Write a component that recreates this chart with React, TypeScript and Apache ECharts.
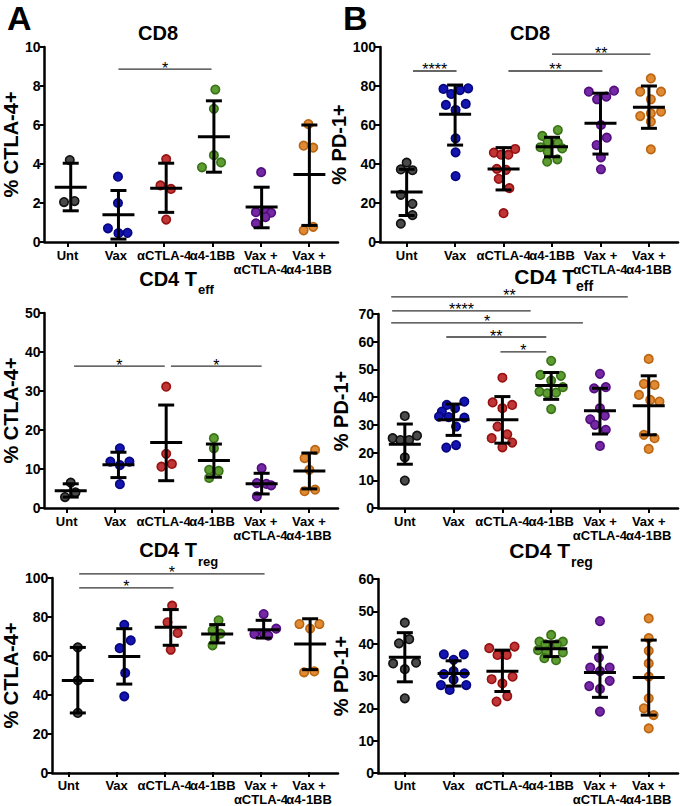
import React, { useEffect, useRef } from "react";
import * as echarts from "echarts";

const FONT = "'Liberation Sans', Arial, Helvetica, sans-serif";

const groups = ["Unt", "Vax", "αCTLA-4", "α4-1BB", "Vax +\nαCTLA-4", "Vax +\nα4-1BB"];
const groupFill = ["#4a4a4a", "#1414b0", "#c03636", "#5c9c30", "#7428a4", "#e08a34"];
const groupEdge = ["#111111", "#06067e", "#961212", "#3a7218", "#520e7e", "#bb6612"];

// points: [horizontal jitter within group, value]
// stats: [mean, mean - SD, mean + SD]
// sig: [from group pos, to group pos, bracket level, label]

// Panel A – CD8, % CTLA-4+
const aCd8Points = [
  [[-0.02, 4.2], [-0.14, 2.05], [0.08, 2.1]],
  [[-0.01, 3.35], [-0.01, 2.0], [-0.22, 0.7], [0.0, 0.45], [0.19, 0.47]],
  [[0.0, 4.25], [-0.12, 2.9], [0.1, 2.72], [0.0, 1.15]],
  [[0.03, 7.82], [0.0, 6.83], [0.0, 4.45], [-0.25, 3.83], [0.15, 4.08]],
  [[-0.01, 3.58], [-0.12, 1.53], [0.1, 1.55], [0.2, 1.5], [-0.12, 0.95], [0.08, 1.28]],
  [[-0.02, 6.05], [-0.12, 4.94], [0.08, 4.84], [-0.12, 0.6], [0.08, 0.78]],
];
const aCd8Stats = [[2.81, 1.6, 4.04], [1.4, 0.15, 2.64], [2.76, 1.52, 4.04], [5.4, 3.58, 7.24], [1.79, 0.73, 2.81], [3.46, 0.85, 6.0]];
const aCd8Sig = [[1.0, 2.95, 8.87, "*"]];

// Panel B – CD8, % PD-1+
const bCd8Points = [
  [[0.0, 40.7], [-0.12, 37.2], [0.12, 36.8], [-0.12, 24.2], [0.12, 19.6], [0.12, 13.8], [-0.12, 9.4]],
  [[-0.24, 78.5], [-0.08, 75.9], [0.1, 77.9], [0.27, 78.8], [-0.19, 70.3], [0.01, 67.7], [0.22, 70.8], [0.01, 53.2], [0.01, 46.0], [0.01, 33.8]],
  [[-0.2, 45.8], [-0.05, 44.8], [0.1, 44.8], [0.24, 47.7], [-0.14, 37.5], [0.05, 37.0], [-0.1, 32.4], [0.12, 27.6], [0.0, 14.8]],
  [[-0.2, 54.4], [0.12, 57.4], [-0.09, 51.4], [0.12, 50.9], [-0.24, 48.6], [0.21, 48.0], [-0.09, 46.3], [0.11, 42.4], [-0.1, 41.2]],
  [[-0.24, 77.1], [0.28, 77.6], [-0.07, 73.2], [0.12, 74.5], [0.01, 60.0], [0.13, 53.5], [-0.08, 49.7], [0.01, 43.4], [0.01, 37.3]],
  [[0.04, 83.9], [-0.18, 77.1], [0.25, 77.1], [0.04, 73.2], [-0.18, 64.6], [0.25, 66.8], [0.04, 66.0], [0.04, 61.7], [0.04, 47.5]],
];
const bCd8Stats = [[25.6, 13.6, 37.3], [65.5, 49.7, 80.5], [37.5, 26.7, 48.4], [48.9, 43.7, 53.7], [60.9, 45.1, 76.3], [69.1, 58.3, 80.0]];
const bCd8Sig = [[0.13, 1.03, 87.7, "****"], [2.1, 4.04, 87.7, "**"], [3.0, 5.03, 96.3, "**"]];

// Panel A – CD4 Teff, % CTLA-4+
const aTeffPoints = [
  [[0.0, 6.5], [0.1, 4.0], [-0.12, 2.8]],
  [[0.03, 15.3], [-0.17, 11.9], [0.23, 11.9], [0.03, 11.0], [0.03, 6.1]],
  [[0.0, 31.1], [0.0, 13.9], [-0.1, 10.6], [0.12, 11.3]],
  [[0.0, 17.9], [0.0, 15.3], [-0.1, 9.8], [0.1, 9.5], [-0.1, 7.7]],
  [[0.0, 10.2], [-0.1, 6.4], [0.1, 6.2], [0.2, 5.8], [-0.1, 3.0]],
  [[0.12, 14.9], [-0.1, 12.8], [0.0, 9.8], [-0.1, 4.3], [0.12, 4.7]],
];
const aTeffStats = [[4.43, 2.8, 6.2], [11.1, 7.8, 14.3], [16.8, 7.0, 26.4], [12.2, 7.9, 16.4], [6.2, 3.6, 8.9], [9.5, 4.9, 14.1]];
const aTeffSig = [[0.07, 1.97, 36.4, "*"], [2.1, 4.0, 36.4, "*"]];

// Panel B – CD4 Teff, % PD-1+
const bTeffPoints = [
  [[0, 33.2], [-0.25, 25.2], [-0.09, 24.5], [0.09, 24.5], [0.25, 26.1], [0, 18.3], [0, 9.9]],
  [[-0.14, 37.2], [0.22, 38.4], [0.03, 36.0], [-0.24, 34.8], [-0.3, 33.0], [-0.1, 32.8], [0.22, 32.6], [0.05, 29.4], [-0.15, 21.8], [0.05, 22.7]],
  [[0, 47.0], [-0.2, 38.1], [0.2, 37.2], [0, 36.0], [-0.1, 29.4], [0.1, 26.6], [-0.22, 25.2], [0.2, 23.6], [0, 21.9]],
  [[0, 53.1], [-0.22, 48.0], [0.2, 47.7], [0, 46.0], [-0.24, 42.0], [-0.08, 41.4], [0.1, 41.6], [0.24, 43.6], [0, 35.7]],
  [[0, 48.4], [-0.12, 43.2], [0.12, 43.6], [0, 36.0], [-0.2, 32.0], [0.1, 33.3], [-0.1, 30.0], [0.12, 28.2], [0, 22.4]],
  [[0, 53.8], [-0.1, 44.8], [0.12, 44.4], [-0.2, 40.8], [0.03, 39.0], [0.22, 38.4], [-0.1, 26.4], [0.12, 25.2], [0, 21.3]],
];
const bTeffStats = [[23.0, 15.8, 30.3], [31.8, 26.2, 37.5], [31.8, 23.4, 40.2], [44.2, 39.2, 48.9], [35.1, 26.7, 43.2], [36.9, 26.4, 47.7]];
const bTeffSig = [
  [-0.28, 4.57, 76.2, "**"],
  [-0.26, 2.58, 71.1, "****"],
  [-0.28, 3.65, 66.8, "*"],
  [0.85, 2.9, 61.7, "**"],
  [1.96, 2.9, 56.3, "*"],
];

// Panel A – CD4 Treg, % CTLA-4+
const aTregPoints = [
  [[0, 64.4], [0, 47.5], [0, 30.8]],
  [[0, 76], [0.14, 68], [-0.1, 64], [0.02, 51.3], [0, 39.3]],
  [[0.03, 85.8], [-0.07, 77.3], [0.15, 71.8], [0, 63.2]],
  [[0.03, 78.3], [-0.1, 73.2], [0.07, 71.5], [-0.05, 69], [-0.1, 65.5]],
  [[0, 81.5], [-0.2, 71.3], [0.27, 74], [0, 71.5], [0.1, 70.5]],
  [[-0.23, 76.4], [0.2, 76.4], [0, 74], [-0.13, 51.6], [0.09, 52.1]],
];
const aTregStats = [[47.5, 30.8, 64.4], [59.8, 45.6, 74], [74.7, 65.5, 83.8], [71.3, 66.7, 76.1], [73.5, 69.2, 78.3], [66.2, 53, 79.1]];
const aTregSig = [[0.03, 4.02, 102.1, "*"], [0.03, 2.06, 94.9, "*"]];

// Panel B – CD4 Treg, % PD-1+
const bTregPoints = [
  [[0, 46.5], [-0.12, 40.1], [0.09, 41.4], [-0.24, 33.9], [0, 32.1], [0.23, 34.1], [0, 23.1]],
  [[-0.2, 36.7], [0.21, 36.7], [0, 35.0], [0, 31.5], [-0.2, 30.6], [0.22, 30.8], [0, 28.9], [-0.26, 27.2], [-0.08, 25.7], [0.26, 27.2]],
  [[-0.27, 38.6], [0.25, 39.1], [-0.1, 36.5], [0.09, 36.5], [0.21, 29.8], [-0.22, 29.0], [0, 27.7], [0.1, 23.8], [-0.12, 22.1]],
  [[0, 42.7], [-0.24, 40.6], [0.24, 40.6], [-0.12, 39.8], [0.12, 39.8], [-0.27, 38.0], [-0.1, 37.6], [0.24, 37.3], [-0.14, 35.5], [0.1, 34.9]],
  [[0, 47.0], [-0.02, 35.7], [-0.2, 32.6], [0.2, 32.6], [0, 31.5], [0.2, 28.5], [-0.22, 26.9], [0, 26.0], [0, 19.0]],
  [[0, 47.8], [0, 41.7], [0, 37.8], [0, 33.9], [0, 29.8], [0, 23.1], [-0.1, 20.0], [0.1, 17.9], [0, 13.8]],
];
const bTregStats = [[35.8, 28.2, 43.4], [30.8, 26.9, 34.7], [31.5, 25.2, 38.0], [38.4, 36.0, 40.6], [31.1, 23.4, 38.9], [29.5, 17.9, 41.1]];
const bTregSig: any[] = [];

const panels = [
  { grid: { left: 41, top: 47, width: 297, height: 195 }, yMax: 10, yStep: 2, yName: "% CTLA-4+", nameGap: 15, points: aCd8Points, stats: aCd8Stats, sig: aCd8Sig },
  { grid: { left: 380, top: 47, width: 298, height: 195 }, yMax: 100, yStep: 20, yName: "% PD-1+", nameGap: 27, points: bCd8Points, stats: bCd8Stats, sig: bCd8Sig },
  { grid: { left: 40, top: 313, width: 298, height: 195 }, yMax: 50, yStep: 10, yName: "% CTLA-4+", nameGap: 15, points: aTeffPoints, stats: aTeffStats, sig: aTeffSig },
  { grid: { left: 378, top: 314, width: 300, height: 194 }, yMax: 70, yStep: 10, yName: "% PD-1+", nameGap: 27, points: bTeffPoints, stats: bTeffStats, sig: bTeffSig },
  { grid: { left: 42, top: 578, width: 296, height: 195 }, yMax: 100, yStep: 20, yName: "% CTLA-4+", nameGap: 15, points: aTregPoints, stats: aTregStats, sig: aTregSig },
  { grid: { left: 378, top: 579, width: 300, height: 194 }, yMax: 60, yStep: 10, yName: "% PD-1+", nameGap: 27, points: bTregPoints, stats: bTregStats, sig: bTregSig },
];

const X_MIN = -0.55;
const X_MAX = 5.6;

function titleText(x: number, y: number, text: string, size: number, align = "center") {
  return {
    type: "text",
    x,
    y,
    style: { text, fontSize: size, fontWeight: "bold", fontFamily: FONT, fill: "#000", align, verticalAlign: "middle" },
  };
}

function buildOption() {
  const grid: any[] = [];
  const xAxis: any[] = [];
  const yAxis: any[] = [];
  const series: any[] = [];

  panels.forEach((p, i) => {
    const g0 = p.grid;
    const unit = g0.width / (X_MAX - X_MIN);
    // main plotting grid (index 2i)
    grid.push({ ...g0, containLabel: false });
    // label grid (index 2i+1): category bands aligned to the value scale of the main grid
    grid.push({
      left: g0.left + (-0.5 - X_MIN) * unit,
      top: g0.top,
      width: 6 * unit,
      height: g0.height,
      containLabel: false,
    });

    xAxis.push({
      gridIndex: 2 * i,
      type: "value",
      min: X_MIN,
      max: X_MAX,
      axisLine: { show: true, onZero: false, lineStyle: { color: "#000", width: 2.5 } },
      axisTick: { show: false },
      axisLabel: { show: false },
      splitLine: { show: false },
    });
    xAxis.push({
      gridIndex: 2 * i + 1,
      type: "category",
      data: groups,
      boundaryGap: true,
      axisLine: { show: false, onZero: false },
      axisTick: { show: true, alignWithLabel: true, interval: 0, length: 5, lineStyle: { color: "#000", width: 2 } },
      axisLabel: {
        interval: 0,
        fontSize: 13,
        fontWeight: "bold",
        fontFamily: FONT,
        color: "#000",
        lineHeight: 14,
        margin: 6,
      },
      splitLine: { show: false },
    });

    yAxis.push({
      gridIndex: 2 * i,
      type: "value",
      min: 0,
      max: p.yMax,
      interval: p.yStep,
      name: p.yName,
      nameLocation: "middle",
      nameGap: p.nameGap,
      nameTextStyle: { fontSize: 20, fontWeight: "bold", fontFamily: FONT, color: "#000" },
      axisLine: { show: true, onZero: false, lineStyle: { color: "#000", width: 2.5 } },
      axisTick: { show: true, length: 5, lineStyle: { color: "#000", width: 2 } },
      axisLabel: { fontSize: 14, fontWeight: "bold", fontFamily: FONT, color: "#000", margin: 4 },
      splitLine: { show: false },
    });
    yAxis.push({
      gridIndex: 2 * i + 1,
      type: "value",
      min: 0,
      max: p.yMax,
      show: false,
    });

    const scatterData: any[] = [];
    p.points.forEach((grp: number[][], g: number) => {
      grp.forEach(([j, v]) => {
        scatterData.push({ value: [g + j, v], itemStyle: { color: groupFill[g], borderColor: groupEdge[g] } });
      });
    });
    series.push({
      type: "scatter",
      xAxisIndex: 2 * i,
      yAxisIndex: 2 * i,
      symbol: "circle",
      symbolSize: 8.5,
      itemStyle: { borderWidth: 1.6, opacity: 1 },
      data: scatterData,
      z: 2,
      silent: true,
    });

    series.push({
      type: "custom",
      xAxisIndex: 2 * i,
      yAxisIndex: 2 * i,
      clip: false,
      z: 3,
      silent: true,
      encode: { x: 0, y: [1, 2, 3] },
      data: p.stats.map((s: number[], g: number) => [g, s[0], s[1], s[2]]),
      renderItem: (params: any, api: any) => {
        const g = api.value(0);
        const pm = api.coord([g, api.value(1)]);
        const pl = api.coord([g, api.value(2)]);
        const ph = api.coord([g, api.value(3)]);
        const style = { stroke: "#000", lineWidth: 3, fill: "none" };
        return {
          type: "group",
          children: [
            { type: "line", shape: { x1: pl[0], y1: pl[1], x2: ph[0], y2: ph[1] }, style },
            { type: "line", shape: { x1: pm[0] - 16, y1: pm[1], x2: pm[0] + 16, y2: pm[1] }, style },
            { type: "line", shape: { x1: pl[0] - 8, y1: pl[1], x2: pl[0] + 8, y2: pl[1] }, style },
            { type: "line", shape: { x1: ph[0] - 8, y1: ph[1], x2: ph[0] + 8, y2: ph[1] }, style },
          ],
        };
      },
    });

    if (p.sig.length) {
      const sig = p.sig;
      series.push({
        type: "custom",
        xAxisIndex: 2 * i,
        yAxisIndex: 2 * i,
        clip: false,
        z: 4,
        silent: true,
        encode: { x: [0, 1], y: 2 },
        data: sig.map((s: any[]) => [s[0], s[1], s[2]]),
        renderItem: (params: any, api: any) => {
          const a = api.coord([api.value(0), api.value(2)]);
          const b = api.coord([api.value(1), api.value(2)]);
          const label = sig[params.dataIndex][3];
          return {
            type: "group",
            children: [
              { type: "line", shape: { x1: a[0], y1: a[1], x2: b[0], y2: b[1] }, style: { stroke: "#333", lineWidth: 1.3 } },
              {
                type: "text",
                x: (a[0] + b[0]) / 2,
                y: a[1] - 1,
                style: { text: label, fontSize: 16, fontFamily: FONT, fill: "#000", align: "center", verticalAlign: "middle" },
              },
            ],
          };
        },
      });
    }
  });

  const graphic: any[] = [
    titleText(7, 18, "A", 34, "left"),
    titleText(343, 18, "B", 34, "left"),
    titleText(158, 33, "CD8", 20),
    titleText(530, 33, "CD8", 20),
    titleText(197, 279, "CD4 T", 20, "right"),
    titleText(198, 289, "eff", 13, "left"),
    titleText(575, 276, "CD4 T", 21, "right"),
    titleText(576, 286, "eff", 14, "left"),
    titleText(197, 550, "CD4 T", 20, "right"),
    titleText(198, 561, "reg", 13, "left"),
    titleText(570, 550, "CD4 T", 21, "right"),
    titleText(571, 562, "reg", 14, "left"),
  ];

  return {
    animation: false,
    backgroundColor: "#ffffff",
    grid,
    xAxis,
    yAxis,
    series,
    graphic,
  };
}

export default function App() {
  const ref = useRef<HTMLDivElement>(null);
  useEffect(() => {
    document.body.style.margin = "0";
    const chart = echarts.init(ref.current!, null, { renderer: "svg" });
    chart.setOption(buildOption() as any);
    return () => chart.dispose();
  }, []);
  return (
    <div
      ref={ref}
      style={{ position: "absolute", left: 0, top: 0, width: 680, height: 806, background: "#fff" }}
    />
  );
}
